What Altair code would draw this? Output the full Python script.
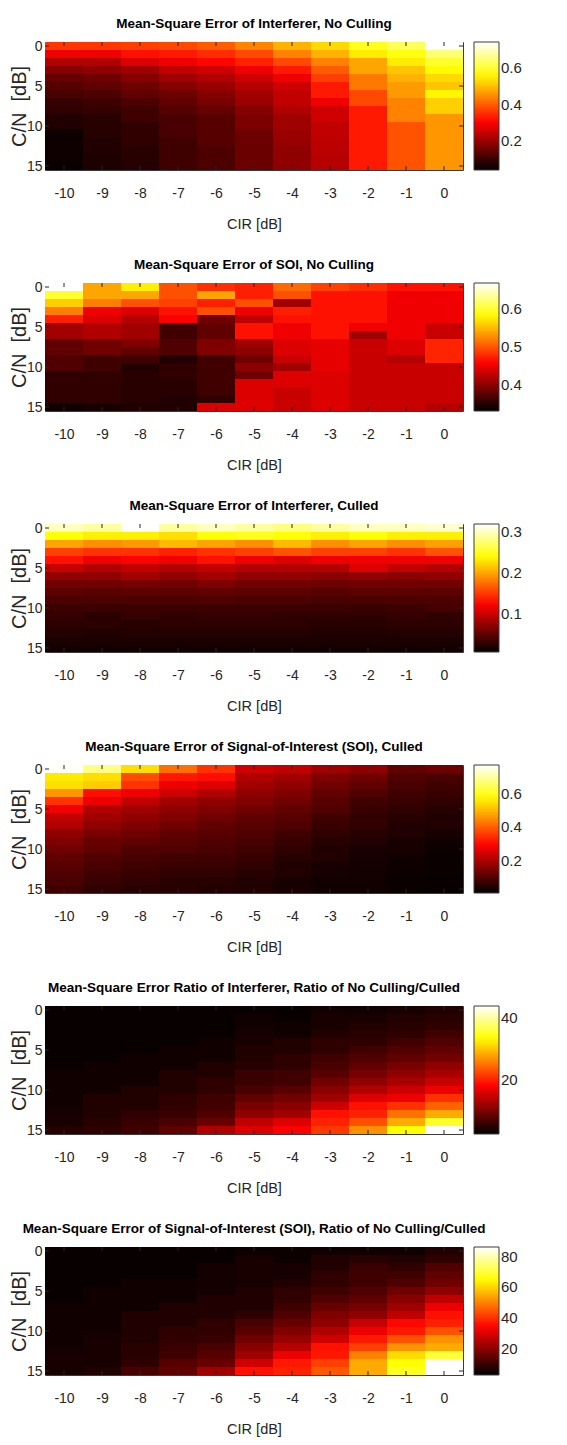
import altair as alt
import pandas as pd

# ---------------- data ----------------
CIR = [-10, -9, -8, -7, -6, -5, -4, -3, -2, -1, 0]
CN = [0, 1, 2, 3, 4, 5, 6, 7, 8, 9, 10, 11, 12, 13, 14, 15]
CN_TICKS = [0, 5, 10, 15]

# each list: one CIR column, values for C/N = 0..15
mse_int_nocull = [
    [0.36, 0.29, 0.225, 0.18, 0.147, 0.13, 0.115, 0.097, 0.09, 0.073, 0.073, 0.056, 0.056, 0.056, 0.056, 0.05],
    [0.36, 0.29, 0.225, 0.19, 0.155, 0.14, 0.12, 0.105, 0.097, 0.08, 0.08, 0.08, 0.073, 0.073, 0.07, 0.07],
    [0.37, 0.32, 0.27, 0.205, 0.18, 0.155, 0.14, 0.12, 0.105, 0.105, 0.09, 0.09, 0.09, 0.08, 0.08, 0.078],
    [0.38, 0.33, 0.29, 0.24, 0.205, 0.18, 0.155, 0.14, 0.13, 0.115, 0.115, 0.115, 0.105, 0.105, 0.105, 0.105],
    [0.40, 0.35, 0.31, 0.255, 0.225, 0.20, 0.18, 0.165, 0.147, 0.13, 0.13, 0.13, 0.13, 0.12, 0.12, 0.12],
    [0.44, 0.38, 0.34, 0.29, 0.255, 0.23, 0.21, 0.20, 0.18, 0.17, 0.17, 0.155, 0.15, 0.15, 0.15, 0.15],
    [0.49, 0.44, 0.38, 0.33, 0.29, 0.255, 0.24, 0.24, 0.225, 0.205, 0.205, 0.20, 0.195, 0.19, 0.19, 0.19],
    [0.53, 0.49, 0.44, 0.40, 0.37, 0.33, 0.33, 0.29, 0.255, 0.255, 0.24, 0.24, 0.235, 0.235, 0.23, 0.23],
    [0.59, 0.55, 0.475, 0.475, 0.43, 0.43, 0.38, 0.38, 0.33, 0.33, 0.33, 0.33, 0.33, 0.33, 0.33, 0.33],
    [0.63, 0.58, 0.55, 0.51, 0.49, 0.465, 0.465, 0.44, 0.44, 0.44, 0.39, 0.39, 0.39, 0.39, 0.39, 0.39],
    [0.745, 0.65, 0.60, 0.565, 0.53, 0.51, 0.56, 0.52, 0.52, 0.46, 0.46, 0.46, 0.46, 0.46, 0.46, 0.46],
]

mse_soi_nocull = [
    [0.67, 0.60, 0.56, 0.52, 0.473, 0.41, 0.41, 0.378, 0.378, 0.37, 0.37, 0.354, 0.354, 0.354, 0.354, 0.338],
    [0.54, 0.54, 0.52, 0.45, 0.44, 0.418, 0.418, 0.386, 0.386, 0.362, 0.362, 0.354, 0.354, 0.354, 0.354, 0.342],
    [0.577, 0.54, 0.4975, 0.44, 0.42, 0.41, 0.41, 0.394, 0.378, 0.362, 0.346, 0.35, 0.35, 0.35, 0.35, 0.346],
    [0.4975, 0.4975, 0.49, 0.466, 0.4575, 0.362, 0.362, 0.37, 0.37, 0.346, 0.354, 0.354, 0.35, 0.35, 0.346, 0.346],
    [0.48, 0.54, 0.473, 0.4975, 0.386, 0.378, 0.378, 0.394, 0.394, 0.362, 0.362, 0.362, 0.362, 0.362, 0.354, 0.44],
    [0.473, 0.473, 0.4975, 0.45, 0.425, 0.466, 0.466, 0.41, 0.40, 0.386, 0.40, 0.386, 0.44, 0.44, 0.44, 0.44],
    [0.51, 0.4975, 0.41, 0.473, 0.466, 0.45, 0.45, 0.44, 0.44, 0.43, 0.41, 0.44, 0.44, 0.43, 0.43, 0.43],
    [0.49, 0.466, 0.466, 0.466, 0.466, 0.466, 0.466, 0.445, 0.445, 0.445, 0.445, 0.44, 0.44, 0.44, 0.44, 0.44],
    [0.48, 0.466, 0.466, 0.466, 0.466, 0.45, 0.41, 0.43, 0.43, 0.43, 0.43, 0.43, 0.43, 0.43, 0.43, 0.43],
    [0.466, 0.45, 0.45, 0.45, 0.45, 0.45, 0.45, 0.44, 0.44, 0.42, 0.43, 0.43, 0.43, 0.43, 0.43, 0.43],
    [0.466, 0.45, 0.45, 0.45, 0.45, 0.43, 0.43, 0.475, 0.475, 0.475, 0.43, 0.43, 0.43, 0.43, 0.43, 0.42],
]

mse_int_culled = [
    [0.30, 0.243, 0.20, 0.155, 0.133, 0.10, 0.075, 0.06, 0.05, 0.043, 0.036, 0.032, 0.028, 0.025, 0.021, 0.017],
    [0.29, 0.235, 0.19, 0.148, 0.118, 0.09, 0.075, 0.06, 0.049, 0.043, 0.036, 0.028, 0.028, 0.024, 0.021, 0.017],
    [0.32, 0.235, 0.195, 0.148, 0.126, 0.097, 0.083, 0.062, 0.05, 0.043, 0.036, 0.032, 0.026, 0.025, 0.021, 0.017],
    [0.29, 0.227, 0.21, 0.14, 0.118, 0.09, 0.075, 0.06, 0.05, 0.043, 0.036, 0.03, 0.028, 0.025, 0.021, 0.017],
    [0.30, 0.243, 0.20, 0.148, 0.133, 0.097, 0.083, 0.066, 0.052, 0.045, 0.036, 0.032, 0.028, 0.025, 0.021, 0.017],
    [0.29, 0.25, 0.19, 0.155, 0.118, 0.09, 0.075, 0.06, 0.05, 0.043, 0.036, 0.032, 0.028, 0.025, 0.021, 0.017],
    [0.28, 0.243, 0.21, 0.163, 0.11, 0.09, 0.075, 0.06, 0.05, 0.043, 0.036, 0.03, 0.028, 0.025, 0.021, 0.017],
    [0.29, 0.235, 0.19, 0.155, 0.118, 0.09, 0.072, 0.058, 0.048, 0.041, 0.035, 0.03, 0.026, 0.024, 0.021, 0.017],
    [0.30, 0.243, 0.20, 0.155, 0.118, 0.11, 0.075, 0.06, 0.05, 0.043, 0.034, 0.03, 0.026, 0.024, 0.021, 0.017],
    [0.30, 0.235, 0.19, 0.148, 0.118, 0.097, 0.072, 0.06, 0.05, 0.043, 0.036, 0.032, 0.028, 0.025, 0.021, 0.017],
    [0.305, 0.235, 0.198, 0.163, 0.118, 0.09, 0.075, 0.06, 0.05, 0.043, 0.04, 0.03, 0.028, 0.025, 0.021, 0.017],
]

mse_soi_culled = [
    [0.77, 0.56, 0.545, 0.46, 0.35, 0.28, 0.223, 0.204, 0.168, 0.15, 0.132, 0.114, 0.105, 0.096, 0.087, 0.078],
    [0.68, 0.545, 0.525, 0.31, 0.275, 0.204, 0.186, 0.168, 0.141, 0.123, 0.114, 0.096, 0.087, 0.078, 0.068, 0.059],
    [0.545, 0.38, 0.35, 0.275, 0.223, 0.186, 0.168, 0.15, 0.132, 0.114, 0.096, 0.087, 0.078, 0.068, 0.059, 0.05],
    [0.42, 0.32, 0.275, 0.235, 0.186, 0.168, 0.15, 0.132, 0.114, 0.105, 0.096, 0.078, 0.068, 0.059, 0.05, 0.05],
    [0.35, 0.31, 0.255, 0.204, 0.168, 0.15, 0.132, 0.114, 0.105, 0.096, 0.087, 0.078, 0.068, 0.059, 0.05, 0.041],
    [0.24, 0.204, 0.186, 0.168, 0.15, 0.132, 0.114, 0.105, 0.096, 0.087, 0.078, 0.068, 0.059, 0.05, 0.041, 0.041],
    [0.223, 0.186, 0.168, 0.15, 0.132, 0.114, 0.105, 0.096, 0.078, 0.068, 0.059, 0.05, 0.041, 0.041, 0.032, 0.032],
    [0.186, 0.15, 0.132, 0.114, 0.105, 0.096, 0.078, 0.068, 0.059, 0.05, 0.041, 0.041, 0.032, 0.032, 0.023, 0.023],
    [0.168, 0.132, 0.114, 0.096, 0.078, 0.068, 0.059, 0.059, 0.05, 0.041, 0.032, 0.03, 0.028, 0.025, 0.023, 0.023],
    [0.114, 0.096, 0.087, 0.078, 0.068, 0.059, 0.05, 0.041, 0.041, 0.032, 0.032, 0.023, 0.022, 0.02, 0.018, 0.018],
    [0.132, 0.087, 0.078, 0.068, 0.059, 0.05, 0.041, 0.041, 0.032, 0.023, 0.02, 0.018, 0.016, 0.015, 0.014, 0.014],
]

ratio_int = [
    [2.9, 2.9, 2.9, 2.9, 2.9, 2.9, 2.9, 2.9, 3.4, 3.4, 3.4, 3.4, 3.4, 3.9, 3.9, 4.8],
    [2.9, 2.9, 2.9, 2.9, 2.9, 2.9, 2.9, 3.4, 3.4, 3.4, 3.4, 4.4, 4.4, 4.4, 4.8, 5.3],
    [2.9, 2.9, 2.9, 2.9, 2.9, 2.9, 3.4, 3.4, 3.4, 3.4, 4.4, 4.4, 4.4, 5.3, 5.8, 6.3],
    [2.9, 2.9, 2.9, 2.9, 2.9, 3.4, 3.4, 3.4, 4.4, 4.4, 4.4, 5.3, 5.3, 5.8, 6.8, 8.3],
    [2.9, 2.9, 2.9, 2.9, 3.4, 3.4, 3.4, 4.4, 4.4, 5.3, 5.3, 6.3, 6.3, 7.3, 8.8, 13.2],
    [2.9, 3.4, 3.4, 3.9, 3.9, 4.4, 4.4, 4.8, 5.8, 5.8, 6.8, 8.3, 9.7, 11.2, 14.1, 15.9],
    [2.9, 2.9, 3.4, 3.4, 4.4, 4.4, 5.3, 5.3, 6.3, 6.3, 7.8, 9.3, 10.7, 12.2, 15.9, 18.0],
    [3.4, 3.9, 3.9, 4.4, 5.3, 5.3, 6.3, 6.8, 7.8, 9.3, 10.7, 12.2, 14.9, 19.0, 20.0, 21.4],
    [3.4, 3.9, 4.4, 4.8, 5.3, 6.3, 7.3, 8.3, 9.7, 11.2, 13.2, 15.9, 19.0, 20.0, 22.9, 26.8],
    [3.9, 4.4, 4.8, 5.3, 6.3, 7.3, 8.3, 9.7, 11.2, 12.7, 14.9, 17.0, 21.0, 24.9, 28.4, 33.6],
    [4.4, 4.8, 5.3, 6.3, 7.3, 8.3, 9.3, 11.2, 12.7, 14.6, 17.0, 21.0, 23.9, 28.4, 35.2, 44.0],
]

ratio_soi = [
    [3.7, 3.7, 3.7, 3.7, 3.7, 3.7, 3.7, 4.7, 4.7, 4.7, 4.7, 4.7, 4.7, 5.7, 5.7, 5.7],
    [3.7, 3.7, 3.7, 3.7, 3.7, 4.7, 4.7, 4.7, 4.7, 4.7, 4.7, 5.7, 5.7, 5.7, 5.7, 6.6],
    [3.7, 3.7, 3.7, 3.7, 4.7, 4.7, 4.7, 4.7, 6.6, 6.6, 6.6, 6.6, 7.6, 7.6, 8.6, 11.6],
    [3.7, 3.7, 3.7, 3.7, 4.7, 4.7, 4.7, 6.6, 6.6, 6.6, 8.6, 8.6, 9.6, 10.6, 13.5, 14.5],
    [3.7, 3.7, 5.2, 5.2, 5.2, 5.2, 6.6, 6.6, 6.6, 8.6, 8.6, 9.6, 11.6, 13.5, 15.5, 22.4],
    [4.2, 5.7, 5.7, 5.7, 5.7, 6.6, 6.6, 6.6, 8.6, 11.6, 13.5, 16.5, 19.4, 22.4, 28.3, 36.0],
    [4.2, 4.2, 5.7, 5.7, 6.6, 8.6, 8.6, 10.6, 12.6, 15.5, 18.5, 21.4, 25.4, 32.0, 37.0, 38.0],
    [4.7, 6.6, 6.6, 8.6, 8.6, 10.6, 12.6, 15.5, 18.5, 20.4, 24.4, 28.3, 36.0, 37.0, 42.0, 45.0],
    [4.7, 7.6, 9.6, 10.6, 10.6, 12.6, 14.5, 17.5, 20.4, 27.3, 32.0, 37.0, 42.0, 50.0, 55.0, 55.0],
    [4.7, 6.6, 8.6, 10.6, 12.6, 16.5, 19.4, 22.4, 26.3, 35.0, 37.0, 44.0, 52.0, 61.0, 65.5, 68.0],
    [6.6, 8.6, 12.6, 14.5, 16.5, 20.4, 26.3, 32.0, 36.0, 38.0, 44.0, 52.0, 55.0, 70.0, 86.4, 86.4],
]

TITLES = [
    "Mean-Square Error of Interferer, No Culling",
    "Mean-Square Error of SOI, No Culling",
    "Mean-Square Error of Interferer, Culled",
    "Mean-Square Error of Signal-of-Interest (SOI), Culled",
    "Mean-Square Error Ratio of Interferer, Ratio of No Culling/Culled",
    "Mean-Square Error of Signal-of-Interest (SOI), Ratio of No Culling/Culled",
]
CLIMS = [[0.04, 0.745], [0.33, 0.67], [0.008, 0.32], [0.005, 0.775], [2.4, 44.0], [2.7, 86.4]]
CBAR_TICKS = [[0.2, 0.4, 0.6], [0.4, 0.5, 0.6], [0.1, 0.2, 0.3], [0.2, 0.4, 0.6], [20, 40], [20, 40, 60, 80]]
CBAR_FMT = [".1f", ".1f", ".1f", ".1f", "d", "d"]
PANELS = [mse_int_nocull, mse_soi_nocull, mse_int_culled, mse_soi_culled, ratio_int, ratio_soi]

# MATLAB "hot" colormap as evenly spaced stops
HOT = ["#000000", "#550000", "#aa0000", "#ff0000", "#ff5500",
       "#ffaa00", "#ffff00", "#ffff80", "#ffffff"]

# ---------------- style ----------------
W, H = 418, 128
FONT = "Liberation Sans, Arial, Helvetica, sans-serif"
AX = "#262626"
TICK = 4

x_scale = alt.Scale(domain=[-10.5, 0.5], nice=False, zero=False)
y_scale = alt.Scale(domain=[-0.5, 15.5], nice=False, zero=False, reverse=True)
x_axis = alt.Axis(values=CIR, ticks=False, domain=False, grid=False, labelPadding=16,
                  titlePadding=17, labelFlush=False, labelExpr="'' + datum.value")
y_axis = alt.Axis(values=CN_TICKS, ticks=False, domain=False, grid=False, labelPadding=3,
                  titlePadding=-3, labelFlush=False)
XT = "CIR [dB]"
YT = "C/N\u00a0\u00a0[dB]"


def panel(cols, title, clim, cticks, fmt):
    recs = []
    for ci, c in enumerate(CIR):
        for ri, n in enumerate(CN):
            recs.append({"cir": c, "cn": n, "v": cols[ci][ri]})
    df = pd.DataFrame(recs)

    rect = alt.Chart(df).mark_rect().transform_calculate(
        x0="datum.cir - 0.5", x1="datum.cir + 0.5",
        y0="datum.cn - 0.5", y1="datum.cn + 0.5",
    ).encode(
        x=alt.X("x0:Q", scale=x_scale, axis=x_axis, title=XT),
        x2="x1:Q",
        y=alt.Y("y0:Q", scale=y_scale, axis=y_axis, title=YT),
        y2="y1:Q",
        color=alt.Color(
            "v:Q",
            scale=alt.Scale(domain=clim, range=HOT, interpolate="rgb", nice=False, zero=False),
            legend=alt.Legend(title=None, values=cticks, format=fmt),
        ),
    )

    xt_df = pd.DataFrame({"cir": CIR})
    yt_df = pd.DataFrame({"cn": CN_TICKS})
    xtop = alt.Chart(xt_df).mark_rule(color=AX, strokeWidth=1).encode(
        x=alt.X("cir:Q", title=XT), y=alt.value(0), y2=alt.value(TICK))
    xbot = alt.Chart(xt_df).mark_rule(color=AX, strokeWidth=1).encode(
        x=alt.X("cir:Q", title=XT), y=alt.value(H - TICK), y2=alt.value(H))
    yleft = alt.Chart(yt_df).mark_rule(color=AX, strokeWidth=1).encode(
        y=alt.Y("cn:Q", title=YT), x=alt.value(0), x2=alt.value(TICK))
    yright = alt.Chart(yt_df).mark_rule(color=AX, strokeWidth=1).encode(
        y=alt.Y("cn:Q", title=YT), x=alt.value(W - TICK), x2=alt.value(W))

    return alt.layer(rect, xtop, xbot, yleft, yright).properties(
        width=W, height=H,
        title=alt.TitleParams(title, frame="group", anchor="middle"),
    )


charts = [panel(PANELS[i], TITLES[i], CLIMS[i], CBAR_TICKS[i], CBAR_FMT[i]) for i in range(6)]

chart = alt.vconcat(*charts, spacing=113, bounds="flush").resolve_scale(
    color="independent"
).properties(
    padding={"left": 0, "top": 8, "right": 5, "bottom": 5},
    background="white",
).configure_view(
    stroke="#3a3a3a", strokeWidth=1
).configure_axis(
    labelFont=FONT, labelFontSize=14, labelColor=AX,
    titleFont=FONT, titleFontSize=14.5, titleFontWeight="normal", titleColor=AX,
).configure_axisY(
    titleFontSize=20,
).configure_title(
    font=FONT, fontSize=13.5, fontWeight="bold", color="#000000", offset=9,
).configure_legend(
    orient="right", offset=11, padding=0,
    gradientLength=H, gradientThickness=25,
    gradientStrokeColor="#3a3a3a", gradientStrokeWidth=1,
    labelFont=FONT, labelFontSize=15, labelColor=AX, labelOffset=4,
)

chart.save("out.html", embed_options={"renderer": "svg", "actions": False})
